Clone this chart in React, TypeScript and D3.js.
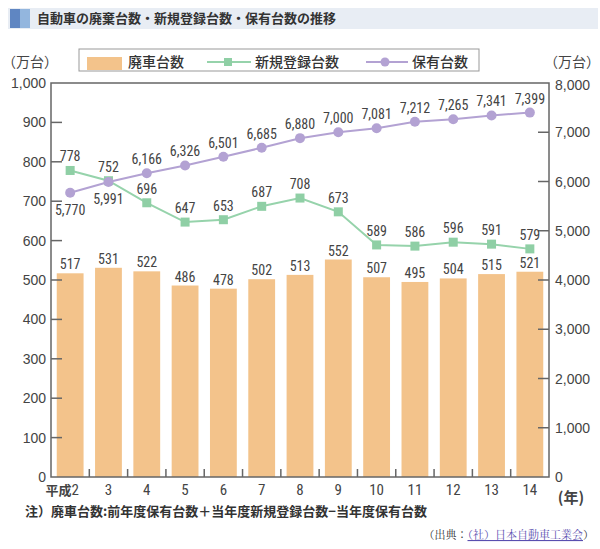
import React from "react";
import * as d3 from "d3";

const categories = ["平成2", "3", "4", "5", "6", "7", "8", "9", "10", "11", "12", "13", "14"];
const scrapped = [517, 531, 522, 486, 478, 502, 513, 552, 507, 495, 504, 515, 521];
const newReg = [778, 752, 696, 647, 653, 687, 708, 673, 589, 586, 596, 591, 579];
const owned = [5770, 5991, 6166, 6326, 6501, 6685, 6880, 7000, 7081, 7212, 7265, 7341, 7399];
const ownedLabelBelow = [true, true, false, false, false, false, false, false, false, false, false, false, false];
const leftTicks = [0, 100, 200, 300, 400, 500, 600, 700, 800, 900, 1000];
const rightTicks = [0, 1000, 2000, 3000, 4000, 5000, 6000, 7000, 8000];

const W = 600, H = 549;
const L = 51, R = 549, T = 83, B = 477;
const NARROW = "'Liberation Sans Narrow', 'Arial Narrow', 'Roboto Condensed', sans-serif";
const JP = "'Noto Sans CJK JP', 'Noto Sans', sans-serif";
const BAR = "#f3c38b";
const GREEN = "#8fcfa5";
const GREEN_LINE = "#96d3ab";
const PURPLE = "#b3a2d3";
const TXT = "#444";
const AX = "#666";

export default function App() {
  const step = (R - L) / categories.length;
  const x = d3.scaleBand<string>().domain(categories).range([L, R]).paddingInner(0.3).paddingOuter(0.15);
  const cx = (i: number) => (x(categories[i]) as number) + x.bandwidth() / 2;
  const yL = d3.scaleLinear().domain([0, 1000]).range([B, T]);
  const yR = d3.scaleLinear().domain([0, 8000]).range([B, T]);
  const fmt = d3.format(",");
  const bw = x.bandwidth();

  const lineG = d3.line<number>().x((_, i) => cx(i)).y((d) => yL(d));
  const lineP = d3.line<number>().x((_, i) => cx(i)).y((d) => yR(d));

  return (
    <svg width={W} height={H} style={{ position: "absolute", left: 0, top: 0, background: "#fff" }}>
      {/* title */}
      <rect x={8} y={8} width={590} height={21} fill="#e8edf4" />
      <rect x={10} y={9} width={10} height={19} fill="#5f86c2" />
      <rect x={20} y={9} width={10} height={19} fill="#93b6de" />
      <text x={37} y={23} fontFamily={JP} fontSize={13} fontWeight={700} fill="#333">
        自動車の廃棄台数・新規登録台数・保有台数の推移
      </text>

      {/* legend */}
      <rect x={79} y={49} width={400} height={22} fill="#fff" stroke="#999" strokeWidth={1} />
      <rect x={87} y={57} width={35} height={13} fill={BAR} />
      <text x={128} y={66.5} fontFamily={JP} fontSize={14} fontWeight={500} fill="#333">廃車台数</text>
      <line x1={207} x2={251} y1={62} y2={62} stroke={GREEN_LINE} strokeWidth={2} />
      <rect x={224} y={58} width={8} height={8} fill={GREEN} />
      <text x={255} y={66.5} fontFamily={JP} fontSize={14} fontWeight={500} fill="#333">新規登録台数</text>
      <line x1={366} x2={408} y1={62} y2={62} stroke={PURPLE} strokeWidth={2} />
      <circle cx={385} cy={62} r={4.5} fill={PURPLE} />
      <text x={412} y={66.5} fontFamily={JP} fontSize={14} fontWeight={500} fill="#333">保有台数</text>

      {/* unit labels */}
      <text x={30} y={67} textAnchor="middle" fontFamily={JP} fontSize={14} fill={TXT}>（万台）</text>
      <text x={572} y={67} textAnchor="middle" fontFamily={JP} fontSize={14} fill={TXT}>（万台）</text>

      {/* bars */}
      {scrapped.map((v, i) => (
        <rect key={"b" + i} x={cx(i) - bw / 2} y={yL(v)} width={bw} height={B - yL(v)} fill={BAR} />
      ))}

      {/* frame */}
      <rect x={L} y={T} width={R - L} height={B - T} fill="none" stroke={AX} strokeWidth={1.5} />

      {/* left ticks */}
      {leftTicks.map((t) => (
        <g key={"l" + t}>
          {t > 0 && t < 1000 && <line x1={L} x2={L + 11} y1={yL(t)} y2={yL(t)} stroke={AX} strokeWidth={1.5} />}
          <text x={46} y={yL(t) + 5} textAnchor="end" fontFamily="'Liberation Sans', Arial, sans-serif" fontSize={14} fill={TXT}>
            {fmt(t)}
          </text>
        </g>
      ))}
      {/* right ticks */}
      {rightTicks.map((t) => (
        <g key={"r" + t}>
          {t > 0 && t < 8000 && <line x1={R - 11} x2={R} y1={yR(t)} y2={yR(t)} stroke={AX} strokeWidth={1.5} />}
          <text x={555} y={yR(t) + 5 + (t === 8000 ? 2 : 0)} textAnchor="start" fontFamily="'Liberation Sans', Arial, sans-serif" fontSize={14} fill={TXT}>
            {fmt(t)}
          </text>
        </g>
      ))}
      {/* bottom ticks */}
      {categories.slice(1).map((c, i) => (
        <line key={"bt" + c} x1={L + step * (i + 1)} x2={L + step * (i + 1)} y1={B} y2={B - 8} stroke={AX} strokeWidth={1.5} />
      ))}
      {categories.map((c, i) => (
        <text key={"c" + c} x={cx(i) + (i === 0 ? -8 : 0)} y={B + 18} textAnchor="middle" fontFamily={i === 0 ? JP : NARROW} fontSize={i === 0 ? 13 : 15} fontWeight={i === 0 ? 700 : 400} fill={TXT}>
          {i === 0 ? (
            <>
              <tspan>平成</tspan>
              <tspan fontFamily={NARROW} fontSize={15} fontWeight={400}>2</tspan>
            </>
          ) : c}
        </text>
      ))}
      <text x={571} y={B + 26} textAnchor="middle" fontFamily={JP} fontSize={15} fontWeight={700} fill={TXT}>(年)</text>

      {/* bar labels */}
      {scrapped.map((v, i) => (
        <text key={"bl" + i} x={cx(i)} y={yL(v) - 4} textAnchor="middle" fontFamily={NARROW} fontSize={14} fill={TXT}>
          {v}
        </text>
      ))}

      {/* green line */}
      <path d={lineG(newReg) || ""} fill="none" stroke={GREEN_LINE} strokeWidth={2} />
      {newReg.map((v, i) => (
        <rect key={"gs" + i} x={cx(i) - 4.5} y={yL(v) - 4.5} width={9} height={9} fill={GREEN} />
      ))}
      {newReg.map((v, i) => (
        <text key={"gl" + i} x={cx(i)} y={yL(v) - 9} textAnchor="middle" fontFamily={NARROW} fontSize={14} fill={TXT}>
          {v}
        </text>
      ))}

      {/* purple line */}
      <path d={lineP(owned) || ""} fill="none" stroke={PURPLE} strokeWidth={2} />
      {owned.map((v, i) => (
        <circle key={"pc" + i} cx={cx(i)} cy={yR(v)} r={5} fill={PURPLE} />
      ))}
      {owned.map((v, i) => (
        <text key={"pl" + i} x={cx(i)} y={ownedLabelBelow[i] ? yR(v) + 22 : yR(v) - 9} textAnchor="middle" fontFamily={NARROW} fontSize={14} fill={TXT}>
          {fmt(v)}
        </text>
      ))}

      {/* note */}
      <text x={25} y={516} fontFamily={JP} fontSize={13} fontWeight={700} fill="#333">
        注）廃車台数:前年度保有台数＋当年度新規登録台数−当年度保有台数
      </text>
      <text x={594} y={539} textAnchor="end" fontFamily="'Noto Serif CJK JP', 'Noto Sans CJK JP', serif" fontSize={11} fill="#333">
        <tspan>（出典：</tspan>
        <tspan fill="#5a4fb0" textDecoration="underline">（社）日本自動車工業会</tspan>
        <tspan>）</tspan>
      </text>
    </svg>
  );
}
